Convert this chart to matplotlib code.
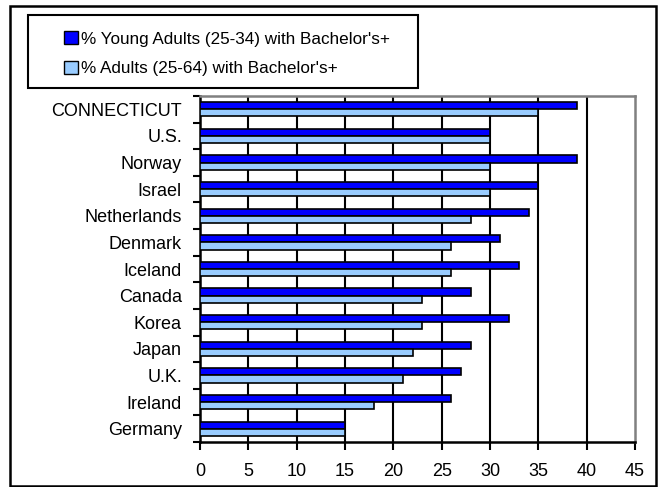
import numpy as np
import matplotlib.pyplot as plt
from matplotlib.patches import Patch, Rectangle

# Data
countries = ['CONNECTICUT', 'U.S.', 'Norway', 'Israel', 'Netherlands', 'Denmark',
             'Iceland', 'Canada', 'Korea', 'Japan', 'U.K.', 'Ireland', 'Germany']
young_adults = [39, 30, 39, 35, 34, 31, 33, 28, 32, 28, 27, 26, 15]
all_adults = [35, 30, 30, 30, 28, 26, 26, 23, 23, 22, 21, 18, 15]
x_ticks = [0, 5, 10, 15, 20, 25, 30, 35, 40, 45]

dark = '#0000FF'
light = '#99CCFF'

plt.rcParams['font.family'] = ['Liberation Sans', 'DejaVu Sans']

fig = plt.figure(figsize=(6.67, 4.87), dpi=100)
ax = fig.add_axes([200 / 667, 1 - 442 / 487, 435 / 667, 346 / 487])

y = np.arange(len(countries))
h = 0.27
ax.barh(y - h / 2, young_adults, height=h, color=dark, edgecolor='black',
        linewidth=1.2, zorder=3)
ax.barh(y + h / 2, all_adults, height=h, color=light, edgecolor='black',
        linewidth=1.2, zorder=3)

ax.set_xlim(0, 45)
ax.set_ylim(len(countries) - 0.5, -0.5)
ax.set_xticks(x_ticks)
ax.set_yticks(y)
ax.set_yticklabels(countries)
ax.set_yticks(np.arange(len(countries) + 1) - 0.5, minor=True)
ax.tick_params(axis='y', which='major', length=0, pad=13, labelsize=13)
ax.tick_params(axis='y', which='minor', length=5, width=1.5, direction='out')
ax.tick_params(axis='x', length=6, width=1.5, direction='out', labelsize=13, pad=9)

for xv in x_ticks[1:-1]:
    ax.axvline(xv, color='black', linewidth=1.5, zorder=1)

ax.spines['left'].set_linewidth(1.8)
ax.spines['bottom'].set_linewidth(1.8)
ax.spines['top'].set_color('#808080')
ax.spines['right'].set_color('#808080')
ax.spines['top'].set_linewidth(1.8)
ax.spines['right'].set_linewidth(1.8)

# Legend box
fig.patches.append(Rectangle((28 / 667, 1 - 88 / 487), 390 / 667, 73 / 487,
                             transform=fig.transFigure, facecolor='white',
                             edgecolor='black', linewidth=1.5))
handles = [Patch(facecolor=dark, edgecolor='black', linewidth=1),
           Patch(facecolor=light, edgecolor='black', linewidth=1)]
fig.legend(handles, ["% Young Adults (25-34) with Bachelor's+",
                     "% Adults (25-64) with Bachelor's+"],
           loc='upper left', bbox_to_anchor=(57 / 667, 1 - 24 / 487),
           frameon=False, fontsize=12.3, handlelength=0.8, handleheight=0.85,
           handletextpad=0.2, labelspacing=0.82, borderaxespad=0)

# Outer border
fig.patches.append(Rectangle((10 / 667, 0.002), 646 / 667, 1 - 6 / 487 - 0.002,
                             transform=fig.transFigure, fill=False,
                             edgecolor='black', linewidth=1.8))

plt.savefig('out.png', dpi=100)
